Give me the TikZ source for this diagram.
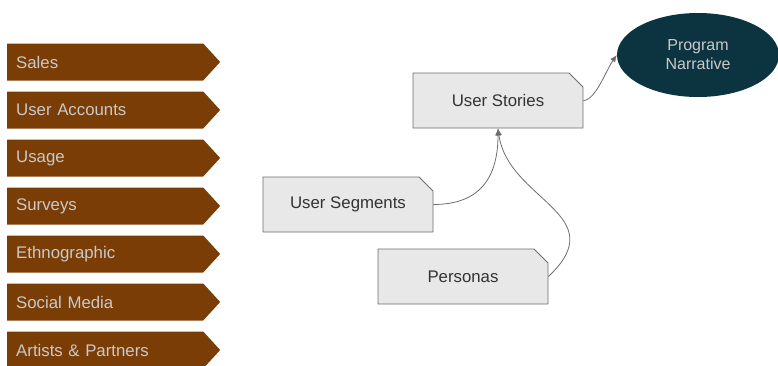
\documentclass[tikz,border=0pt]{standalone}
\usepackage{fontspec}
\setmainfont{Liberation Sans}
\usepackage{xcolor}
\usetikzlibrary{arrows.meta,positioning,shapes.symbols,shapes.misc,shapes.geometric}
\definecolor{Bark}{HTML}{7A3D06}
\definecolor{Teal}{HTML}{0C3440}
\definecolor{Paper}{HTML}{E8E8E8}
\definecolor{Edge}{HTML}{6E6E6E}
\definecolor{Label}{HTML}{C9C9C9}
\definecolor{Ink}{HTML}{333333}

\begin{document}
\begin{tikzpicture}[x=1pt, y=-1pt,
    font=\fontsize{16.8}{19}\selectfont,
    source/.style={signal, signal to=east, signal from=nowhere, signal pointer angle=95,
      fill=Bark, text=Label, text width=178pt, inner xsep=9pt, minimum height=37pt,
      anchor=west, align=left},
    card/.style={chamfered rectangle, chamfered rectangle corners=north east,
      chamfered rectangle xsep=7pt, chamfered rectangle ysep=7pt,
      fill=Paper, draw=Edge, line width=0.8pt, text=Ink,
      minimum width=170pt, minimum height=55pt},
    link/.style={draw=Edge, line width=0.8pt, -{Latex[length=7pt,width=6pt]}}]
    \useasboundingbox (0,0) rectangle (778,365);
    \clip (0,0) rectangle (778,365);

    \node[source] (sales) at (7,62) {Sales};
    \node[source] (accounts) at (7,110) {User Accounts};
    \node[source] (usage) at (7,158) {Usage};
    \node[source] (surveys) at (7,206) {Surveys};
    \node[source] (ethno) at (7,254) {Ethnographic};
    \node[source] (social) at (7,302) {Social Media};
    \node[source] (artists) at (7,350) {Artists \& Partners};

    \node[card] (stories) at (498,100.5) {User Stories};
    \node[card] (segments) at (348,204.5) {User Segments};
    \node[card] (personas) at (463,276.5) {Personas};

    \node[ellipse, fill=Teal, text=Label, minimum width=162pt, minimum height=84pt,
      align=center, font=\fontsize{16}{19}\selectfont] (narrative) at (698,55) {Program\\Narrative};

    \draw[link] (stories.east) .. controls +(12,0) and +(-10,14) .. (narrative.west);
    \draw[link] (segments.east) .. controls +(50,0) and +(0,45) .. (stories.south);
    \draw[link] (personas.east) .. controls +(66,-62) and +(10,72) .. (stories.south);
\end{tikzpicture}
\end{document}
